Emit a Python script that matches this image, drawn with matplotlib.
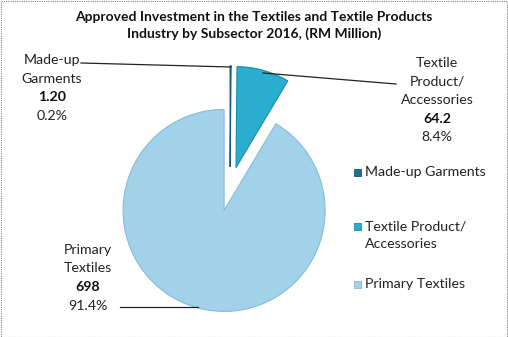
import matplotlib.pyplot as plt
from matplotlib.patches import Rectangle

plt.rcParams["font.family"] = ["Lato", "DejaVu Sans"]

subsectors = ["Made-up Garments", "Textile Product/\nAccessories", "Primary Textiles"]
label_names = ["Made-up\nGarments", "Textile\nProduct/\nAccessories", "Primary\nTextiles"]
values = [1.20, 64.2, 698]
value_text = ["1.20", "64.2", "698"]
colors = ["#1f6f93", "#2aaed0", "#a2d2e9"]
edges = ["#175a78", "#1b8aa8", "#86bcd6"]

W, H = 508, 337
R = 101.0
cx, cy = 230, 189  # pie centre in pixels (from top-left)

fig = plt.figure(figsize=(W / 100, H / 100), dpi=100)
ax = fig.add_axes([0, 0, 1, 1])


def px(x, y):
    return (x - cx) / R, (cy - y) / R


wedges, _ = ax.pie(values, colors=colors, startangle=90, counterclock=False,
                   explode=[0.22, 0.22, 0.22], radius=1.0,
                   wedgeprops=dict(linewidth=0.8),
                   frame=False)
for w, ec in zip(wedges, edges):
    w.set_edgecolor(ec)
ax.set_aspect("equal")
ax.set_xlim(-cx / R, (W - cx) / R)
ax.set_ylim(-(H - cy) / R, cy / R)
ax.axis("off")

total = sum(values)
pcts = [f"{100 * v / total:.1f}%" for v in values]

fs = 10.2
# data labels (name / bold value / percent)
label_pos = [(52, 60), (437, 63), (88, 250)]
step = 18.5
for i, (lx, ly) in enumerate(label_pos):
    y = ly
    for line in label_names[i].split("\n"):
        ax.text(*px(lx, y), line, ha="center", va="center", fontsize=fs, color="#222222")
        y += step
    ax.text(*px(lx, y), value_text[i], ha="center", va="center", fontsize=fs,
            fontweight="bold", color="#111111")
    y += step
    ax.text(*px(lx, y), pcts[i], ha="center", va="center", fontsize=fs, color="#222222")

# leader lines
leaders = [[(81, 63), (231, 67)], [(263, 73), (396, 84)], [(120, 307), (198, 307)]]
for seg in leaders:
    xs, ys = zip(*[px(x, y) for x, y in seg])
    ax.plot(xs, ys, color="#222222", linewidth=0.9)

# title
fig.text(0.5, 1 - 17 / H, "Approved Investment in the Textiles and Textile Products",
         ha="center", va="center", fontsize=10, fontweight="bold", color="#111111")
fig.text(0.5, 1 - 34 / H, "Industry by Subsector 2016, (RM Million)",
         ha="center", va="center", fontsize=10, fontweight="bold", color="#111111")

# legend
legend_y = [172, 226, 284]
for i, ly in enumerate(legend_y):
    mx, my = px(354, ly + 3.5)
    ax.add_patch(Rectangle((mx, my), 7 / R, 7 / R, facecolor=colors[i], edgecolor=edges[i], linewidth=0.6))
    for j, line in enumerate(subsectors[i].split("\n")):
        ax.text(*px(365, ly + j * 18), line, ha="left", va="center", fontsize=fs, color="#222222")

# dotted chart border
fig.patches.append(Rectangle((0.5 / W, 0.5 / H), 1 - 1.5 / W, 1 - 1.5 / H, transform=fig.transFigure,
                             fill=False, edgecolor="#888888", linewidth=0.8, linestyle=(0, (1, 1))))

fig.savefig("out.png", dpi=100)
